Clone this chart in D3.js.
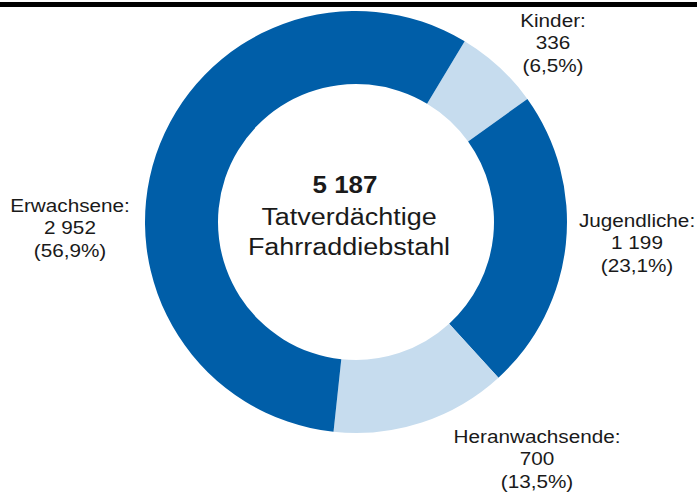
<!DOCTYPE html>
<html>
<head>
<meta charset="utf-8">
<script src="https://cdn.jsdelivr.net/npm/d3@7"></script>
<style>
  html, body { margin: 0; padding: 0; background: #fff; }
  svg { display: block; }
  text { font-family: "Liberation Sans", Arial, sans-serif; fill: #1a1a1a; }
</style>
</head>
<body>
<svg id="chart" width="697" height="495"></svg>
<script>
// Suspects of bicycle theft by age group
const categories = ["Kinder", "Jugendliche", "Heranwachsende", "Erwachsene"];
const values = [336, 1199, 700, 2952];
const percentLabels = ["6,5%", "23,1%", "13,5%", "56,9%"];
const valueLabels = ["336", "1 199", "700", "2 952"];
const segmentColors = ["#c6dcee", "#005ea8", "#c6dcee", "#005ea8"];
const totalLabel = "5 187";
const centerLines = ["Tatverdächtige", "Fahrraddiebstahl"];

const svg = d3.select("#chart");
const W = 697, H = 495;

// heavy rule across the top
svg.append("rect").attr("x", 0).attr("y", 2).attr("width", W).attr("height", 5).attr("fill", "#000");

const cx = 356, cy = 222, outerR = 211, innerR = 138;
const startOffset = 31 * Math.PI / 180;

const pie = d3.pie().sort(null).value(d => d)
  .startAngle(startOffset).endAngle(startOffset + 2 * Math.PI);
const arc = d3.arc().innerRadius(innerR).outerRadius(outerR);

const g = svg.append("g").attr("transform", `translate(${cx},${cy})`);
g.selectAll("path.slice")
  .data(pie(values))
  .join("path")
  .attr("class", "slice")
  .attr("d", arc)
  .attr("fill", (d, i) => segmentColors[i]);

// centre caption
svg.append("g").attr("transform", "translate(345,193) scale(1.06,1)")
  .append("text").attr("x", 0).attr("y", 0).attr("text-anchor", "middle")
  .attr("font-size", 24.5).attr("font-weight", "bold").text(totalLabel);
const centerBody = svg.append("g").attr("transform", "translate(349,225) scale(1.1,1)");
centerLines.forEach((t, i) => {
  centerBody.append("text").attr("x", 0).attr("y", i * 30).attr("text-anchor", "middle")
    .attr("font-size", 24.5).text(t);
});

// outside labels: anchor x, first baseline
const labelPos = [
  { x: 553, y: 27 },
  { x: 637, y: 227 },
  { x: 537, y: 443 },
  { x: 70, y: 212 }
];
const lineGap = 22.5;

categories.forEach((c, i) => {
  const p = labelPos[i];
  const lg = svg.append("g").attr("transform", `translate(${p.x},${p.y}) scale(1.12,1)`);
  [c + ":", valueLabels[i], "(" + percentLabels[i] + ")"].forEach((t, j) => {
    lg.append("text").attr("x", 0).attr("y", j * lineGap)
      .attr("text-anchor", "middle").attr("font-size", 18.5).text(t);
  });
});
</script>
</body>
</html>
